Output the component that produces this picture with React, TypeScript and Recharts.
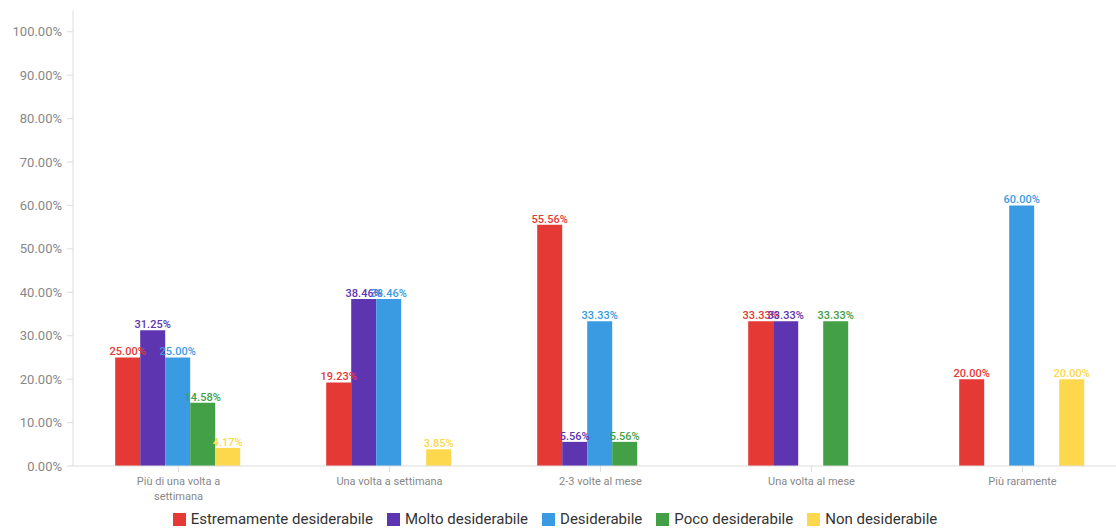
import { BarChart, Bar, XAxis, YAxis, Legend, LabelList } from 'recharts';

const categories = [
  'Più di una volta a settimana',
  'Una volta a settimana',
  '2-3 volte al mese',
  'Una volta al mese',
  'Più raramente',
];

// percent values per series, null = no answer in that group
const estremamente = [25.0, 19.23, 55.56, 33.33, 20.0];
const molto = [31.25, 38.46, 5.56, 33.33, null];
const desiderabile = [25.0, 38.46, 33.33, null, 60.0];
const poco = [14.58, null, 5.56, 33.33, null];
const non = [4.17, 3.85, null, null, 20.0];

const yTicks = [0, 10, 20, 30, 40, 50, 60, 70, 80, 90, 100];

const series = [
  { key: 'estremamente', name: 'Estremamente desiderabile', color: '#E53935', values: estremamente },
  { key: 'molto', name: 'Molto desiderabile', color: '#5E35B1', values: molto },
  { key: 'desiderabile', name: 'Desiderabile', color: '#3A9BE3', values: desiderabile },
  { key: 'poco', name: 'Poco desiderabile', color: '#43A047', values: poco },
  { key: 'non', name: 'Non desiderabile', color: '#FDD84C', values: non },
];

const data = categories.map((cat, i) => {
  const row: Record<string, string | number | null> = { cat };
  series.forEach((s) => {
    row[s.key] = s.values[i];
  });
  return row;
});

const FONT = 'Roboto, "Noto Sans", sans-serif';

function splitLabel(text: string, maxChars = 22): string[] {
  const words = text.split(' ');
  const lines: string[] = [];
  let cur = '';
  words.forEach((w) => {
    const next = cur ? cur + ' ' + w : w;
    if (next.length > maxChars && cur) {
      lines.push(cur);
      cur = w;
    } else {
      cur = next;
    }
  });
  if (cur) lines.push(cur);
  return lines;
}

function CategoryTick(props: any) {
  const { x, y, payload } = props;
  const lines = splitLabel(String(payload.value));
  return (
    <text x={x} y={y + 3} textAnchor="middle" fill="#888" fontSize={11} fontFamily={FONT}>
      {lines.map((l, i) => (
        <tspan key={i} x={x} dy={i === 0 ? '0.71em' : 15}>
          {l}
        </tspan>
      ))}
    </text>
  );
}

// legend in series order (recharts would sort it by name otherwise)
function SeriesLegend() {
  return (
    <div
      style={{
        display: 'flex',
        justifyContent: 'center',
        gap: 14,
        fontFamily: FONT,
        fontSize: 15,
        color: '#333',
        lineHeight: '18px',
        paddingRight: 18,
        paddingTop: 2,
      }}
    >
      {series.map((s) => (
        <div key={s.key} style={{ display: 'flex', alignItems: 'center', gap: 5 }}>
          <span style={{ width: 13, height: 13, background: s.color, display: 'inline-block' }} />
          <span>{s.name}</span>
        </div>
      ))}
    </div>
  );
}

const fmt = (v: any) => (v == null ? '' : `${Number(v).toFixed(2)}%`);

export default function App() {
  return (
    <div style={{ position: 'absolute', left: 0, top: 0, width: 1116, height: 528, overflow: 'hidden', background: '#fff' }}>
      <BarChart
        width={1130}
        height={528}
        data={data}
        margin={{ top: 10, right: 2, left: 0, bottom: 0 }}
        barCategoryGap="20%"
        barGap={0}
      >
        <XAxis
          dataKey="cat"
          interval={0}
          height={42}
          tick={<CategoryTick />}
          tickLine={{ stroke: '#ddd' }}
          axisLine={{ stroke: '#ddd' }}
        />
        <YAxis
          domain={[0, 105]}
          ticks={yTicks}
          width={73}
          tickFormatter={(v) => `${v.toFixed(2)}%`}
          tick={{ fontSize: 13, fill: '#888', fontFamily: FONT }}
          tickLine={{ stroke: '#ddd' }}
          axisLine={{ stroke: '#ddd' }}
          tickMargin={5}
        />
        <Legend verticalAlign="bottom" content={<SeriesLegend />} />
        {series.map((s) => (
          <Bar key={s.key} dataKey={s.key} name={s.name} fill={s.color} isAnimationActive={false}>
            <LabelList
              dataKey={s.key}
              position="top"
              offset={2}
              formatter={fmt}
              fill={s.color}
              fontSize={11}
              fontFamily={FONT}
              fontWeight={500}
            />
          </Bar>
        ))}
      </BarChart>
    </div>
  );
}
